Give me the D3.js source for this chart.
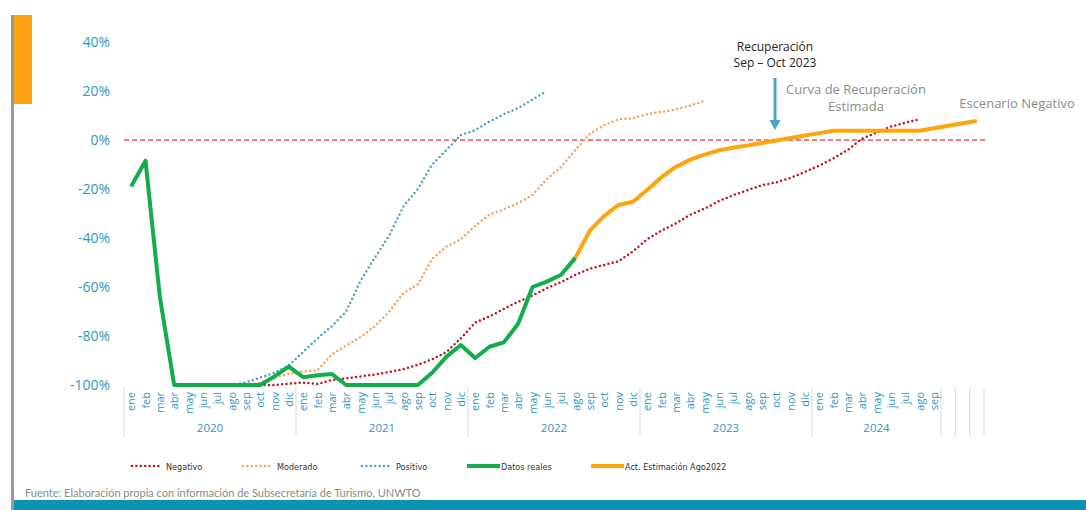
<!DOCTYPE html>
<html><head><meta charset="utf-8">
<script src="https://cdn.jsdelivr.net/npm/d3@7"></script>
<style>body{margin:0;background:#fff}svg{display:block}</style>
</head><body><svg id="c" width="1086" height="510"></svg>
<script>
// ---------- DATA ----------
const monthNames = ["ene","feb","mar","abr","may","jun","jul","ago","sep","oct","nov","dic"];
const yearLabels = ["2020","2021","2022","2023","2024","","",""];
const monthsInYear = [12,12,12,12,9,1,1,1];
const yTicks = [-100,-80,-60,-40,-20,0,20,40];
const N = null;
// 60 categories: ene 2020 ... sep 2024 + 3 blank
const negativo = [N,N,N,N,N,N,N,N,N,-100, -100,-99.5,-99,-99.6,-98,-97.3,-96.5,-95.7,-94.7,-93.5, -91.8,-89.5,-86.5,-81,-74.5,-72,-69,-66,-63.5,-60.5, -58,-55,-52.5,-51,-49.5,-45.5,-40.5,-37,-34,-30.5, -28,-25,-22.5,-20.5,-18.5,-17.3,-15.5,-13,-10.5,-7.5, -4,0.5,3,5.5,7,8.5,N,N,N,N];
const moderado = [N,N,N,N,N,N,N,N,-100,-99, -97,-95.5,-94.5,-94,-87.5,-84,-80.5,-76,-70,-62.5, -59,-48.5,-43.5,-40.5,-35,-30.5,-28.3,-25.8,-22.5,-16, -11,-4,2.5,6,8.5,8.8,10.5,11.5,12.5,14, 16,N,N,N,N,N,N,N,N,N, N,N,N,N,N,N,N,N,N,N];
const positivo = [N,N,N,-100,-100,-100,-100,-100,-99,-97, -95,-92,-86.5,-81,-76,-70,-57.5,-48,-39,-27, -20,-10,-4,2,4,7.5,10.5,13,16.5,20, N,N,N,N,N,N,N,N,N,N, N,N,N,N,N,N,N,N,N,N, N,N,N,N,N,N,N,N,N,N];
const datosReales = [-19,-8.5,-64,-100,-100,-100,-100,-100,-100,-100, -96.5,-92.5,-96.8,-96,-95.5,-100,-100,-100,-100,-100, -100,-95,-88.4,-83.7,-89,-84.4,-82.6,-75,-60,-57.8, -55,-48,N,N,N,N,N,N,N,N, N,N,N,N,N,N,N,N,N,N, N,N,N,N,N,N,N,N,N,N];
const estimacion = [N,N,N,N,N,N,N,N,N,N, N,N,N,N,N,N,N,N,N,N, N,N,N,N,N,N,N,N,N,N, N,-48,-37,-31,-26.5,-25.2,-20.4,-15.2,-11,-8, -6,-4.2,-3.2,-2.2,-1.2,-0.2,0.8,1.8,2.8,3.8, 3.8,3.8,3.8,3.8,3.8,3.8,4.8,5.8,6.8,7.8];
const legendItems = [
  {name:"Negativo", key:"neg"},
  {name:"Moderado", key:"mod"},
  {name:"Positivo", key:"pos"},
  {name:"Datos reales", key:"real"},
  {name:"Act. Estimación Ago2022", key:"est"}
];
const sourceText = "Fuente: Elaboración propia con información de Subsecretaría de Turismo, UNWTO";

// ---------- CATEGORIES ----------
const cats = [];
const groups = [];
monthsInYear.forEach((n, g) => {
  const start = cats.length;
  for (let m = 0; m < n; m++) cats.push({i: cats.length, month: yearLabels[g] ? monthNames[m] : "", year: yearLabels[g]});
  groups.push({label: yearLabels[g], start, end: cats.length});
});

// ---------- STYLES ----------
const C = {
  neg: "#c0141c", mod: "#f7a25c", pos: "#4aa3c4", real: "#13ad4b", est: "#ffa40c",
  axis: "#2f97c0", zero: "#ef4f4f", grid: "#d9d9d9"
};

const svg = d3.select("#c");
svg.append("rect").attr("width",1086).attr("height",510).attr("fill","#fff");

const x = d3.scaleBand().domain(cats.map(d=>d.i)).range([124, 984]).padding(0);
const y = d3.scaleLinear().domain([-100, 40]).range([385, 42]);
const cx = i => x(i) + x.bandwidth()/2;

// decorations
svg.append("rect").attr("x",11).attr("y",15).attr("width",3).attr("height",495).attr("fill","#9a9a9a");
svg.append("rect").attr("x",14).attr("y",15).attr("width",18).attr("height",89).attr("fill","#fda311");
svg.append("rect").attr("x",14).attr("y",500).attr("width",1072).attr("height",10).attr("fill","#0b93b4");

// y axis
const ya = svg.append("g").attr("transform","translate(124,0)")
  .call(d3.axisLeft(y).tickValues(yTicks).tickFormat(d => d + "%").tickSize(0).tickPadding(14));
ya.select(".domain").remove();
ya.selectAll("text").attr("fill", C.axis).attr("font-family","'Open Sans', sans-serif").attr("font-size",14).attr("dy","0.35em");

// zero line
svg.append("line").attr("x1",124).attr("x2",986).attr("y1",y(0)).attr("y2",y(0))
  .attr("stroke",C.zero).attr("stroke-width",1.3).attr("stroke-dasharray","5,3");

// x axis: dividers
const bounds = groups.map(g=>g.start).concat([cats.length]);
svg.append("g").selectAll("line").data(bounds).join("line")
  .attr("x1", b => b < cats.length ? x(b) : x(cats.length-1)+x.bandwidth())
  .attr("x2", b => b < cats.length ? x(b) : x(cats.length-1)+x.bandwidth())
  .attr("y1",387).attr("y2",437).attr("stroke",C.grid).attr("stroke-width",1);

// month labels
svg.append("g").selectAll("text").data(cats.filter(d=>d.month)).join("text")
  .attr("transform", d => `translate(${cx(d.i)+4},392) rotate(-90)`)
  .attr("text-anchor","end").attr("fill",C.axis)
  .attr("font-family","'Open Sans', sans-serif").attr("font-size",11)
  .text(d=>d.month);

// year labels
svg.append("g").selectAll("text").data(groups.filter(g=>g.label)).join("text")
  .attr("x", g => (x(g.start) + x(g.end-1) + x.bandwidth())/2)
  .attr("y", 432).attr("text-anchor","middle").attr("fill",C.axis)
  .attr("font-family","'Open Sans', sans-serif").attr("font-size",11.5)
  .text(g=>g.label);

// lines
const line = d3.line().defined(d => d.v != null).x(d => cx(d.i)).y(d => y(d.v));
const toPts = arr => arr.map((v,i)=>({i, v}));
function dotted(arr, color){
  svg.append("path").datum(toPts(arr)).attr("d", line).attr("fill","none")
    .attr("stroke",color).attr("stroke-width",2.5).attr("stroke-linecap","round")
    .attr("stroke-dasharray","0,4.4");
}
dotted(positivo, C.pos);
dotted(moderado, C.mod);
dotted(negativo, C.neg);
svg.append("path").datum(toPts(datosReales)).attr("d", line).attr("fill","none")
  .attr("stroke",C.real).attr("stroke-width",4).attr("stroke-linejoin","round");
svg.append("path").datum(toPts(estimacion)).attr("d", line).attr("fill","none")
  .attr("stroke",C.est).attr("stroke-width",4).attr("stroke-linejoin","round");

// annotations
const ann = svg.append("g").attr("font-family","'Open Sans', sans-serif");
ann.append("text").attr("x",775).attr("y",51).attr("text-anchor","middle").attr("font-size",12).attr("fill","#1e1e1e").text("Recuperación");
ann.append("text").attr("x",775).attr("y",67).attr("text-anchor","middle").attr("font-size",12).attr("fill","#1e1e1e").text("Sep – Oct 2023");
ann.append("line").attr("x1",775).attr("x2",775).attr("y1",78).attr("y2",121).attr("stroke","#4aa3c4").attr("stroke-width",3);
ann.append("path").attr("d","M769.5,120 L780.5,120 L775,130 Z").attr("fill","#4aa3c4");
ann.append("text").attr("x",856).attr("y",94).attr("text-anchor","middle").attr("font-size",13).attr("fill","#8c8c8c").text("Curva de Recuperación");
ann.append("text").attr("x",856).attr("y",111).attr("text-anchor","middle").attr("font-size",13).attr("fill","#8c8c8c").text("Estimada");
ann.append("text").attr("x",1017).attr("y",108).attr("text-anchor","middle").attr("font-size",13).attr("fill","#8c8c8c").text("Escenario Negativo");

// legend
const legX = [132, 243, 362, 467, 591];
const lg = svg.append("g").attr("font-family","'Liberation Sans Narrow','DejaVu Sans Condensed',sans-serif").attr("font-size",9);
legendItems.forEach((it, k) => {
  const x0 = legX[k];
  const dottedItem = k < 3;
  const w = dottedItem ? 30 : 33;
  lg.append("line").attr("x1",x0).attr("x2",x0+w).attr("y1",466).attr("y2",466)
    .attr("stroke",C[it.key]).attr("stroke-width", dottedItem ? 2.5 : 4)
    .attr("stroke-linecap", dottedItem ? "round" : "butt")
    .attr("stroke-dasharray", dottedItem ? "0,4.4" : null);
  lg.append("text").attr("x", x0 + w + (dottedItem ? 4 : 1)).attr("y",469.5).attr("fill","#333").text(it.name);
});

// source
svg.append("text").attr("x",25).attr("y",497).attr("font-family","Lato, sans-serif").attr("font-size",11).attr("fill","#8a8a8a").text(sourceText);
</script></body></html>
